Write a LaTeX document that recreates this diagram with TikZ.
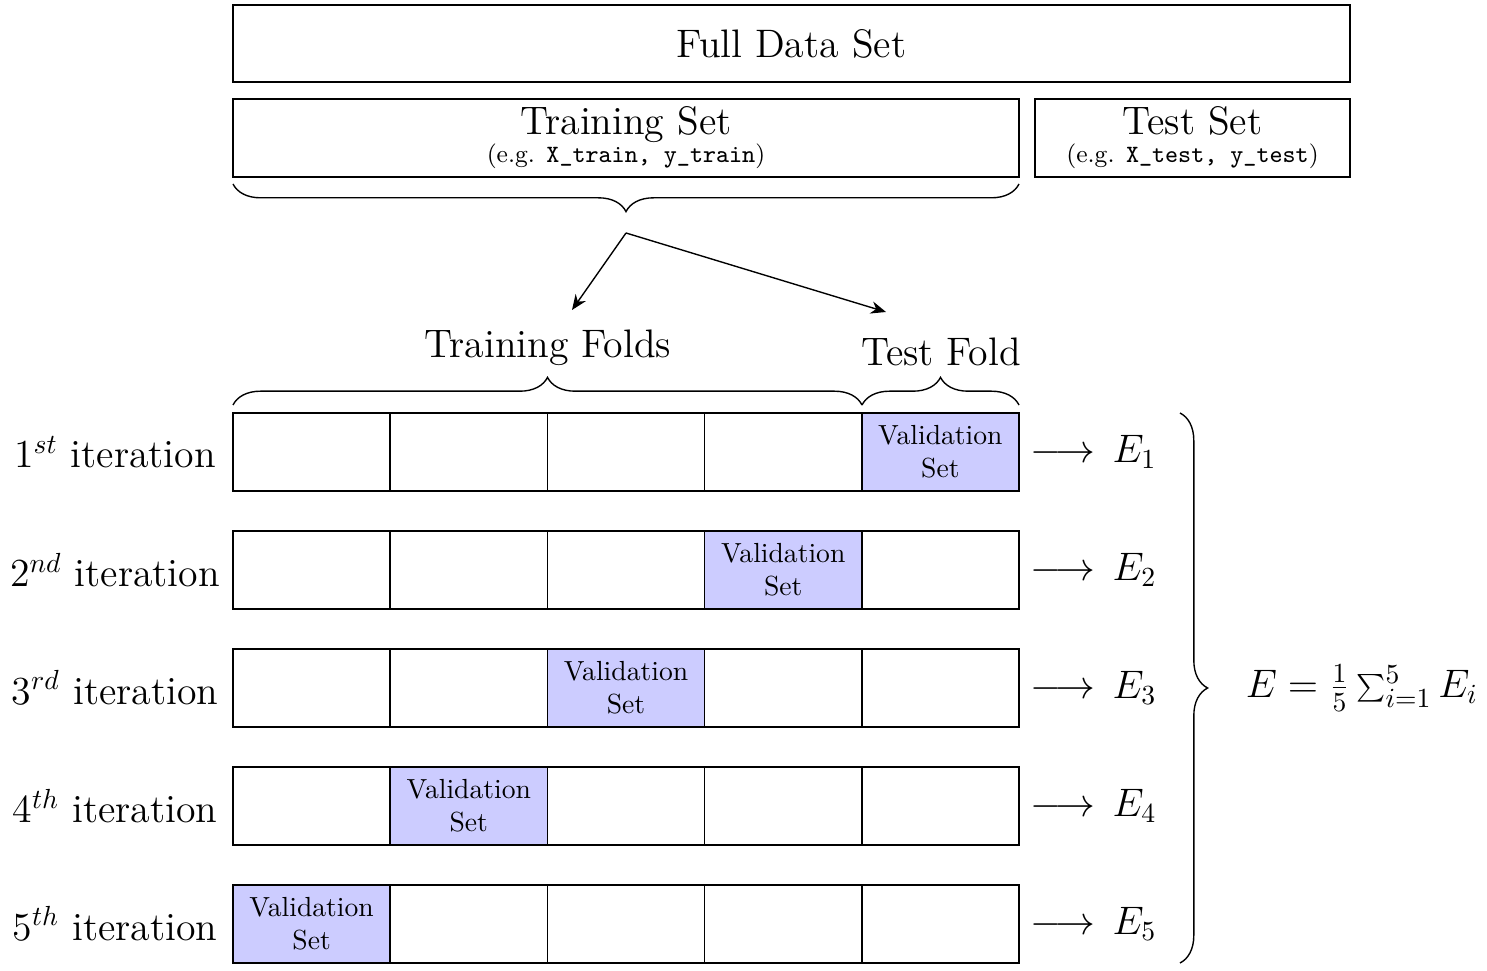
\documentclass[tikz,border=0pt]{standalone}
\usetikzlibrary{decorations.pathreplacing,arrows.meta}
\newcommand\pxu{0.12723mm}
\begin{document}
\begin{tikzpicture}[x=0.12723mm,y=-0.12723mm,
  box/.style={draw, line width=0.6pt, inner sep=0pt, outer sep=0pt},
  cell/.style={box, minimum width={157.2*\pxu}, minimum height={78*\pxu}},
  valcell/.style={cell, fill=blue!20, align=center, font=\normalsize},
  bigtext/.style={font=\Large},
  brace/.style={decorate, decoration={brace, amplitude=10pt}, line width=0.5pt},
  arr/.style={-{Stealth[length=5.5pt,width=4.5pt]}, line width=0.5pt}
]
\useasboundingbox (0,0) rectangle (1487,971);

% top boxes
\node[box, minimum width={1117*\pxu}, minimum height={77*\pxu}, bigtext] (full) at (791.5,43.5) {Full Data Set};
\node[box, minimum width={786*\pxu}, minimum height={78*\pxu}] (train) at (626,138) {};
\node[anchor=base, bigtext] (trainlbl) at (626,135) {Training Set};
\node[anchor=base, font=\small] (trainsub) at (626,163) {(e.g. \texttt{X\_train, y\_train})};
\node[box, minimum width={315*\pxu}, minimum height={78*\pxu}] (test) at (1192.5,138) {};
\node[anchor=base, bigtext] (testlbl) at (1192.5,135) {Test Set};
\node[anchor=base, font=\small] (testsub) at (1192.5,163) {(e.g. \texttt{X\_test, y\_test})};

% brace under training set
\draw[brace] (1019,184) -- (233,184);

% split arrows
\coordinate (split) at (626,233);
\coordinate (tofolds) at (572,310);
\coordinate (totest) at (886,312);
\draw[arr] (split) -- (tofolds);
\draw[arr] (split) -- (totest);

% fold labels and braces
\node[anchor=south, inner sep=2pt, bigtext] (tflbl) at (548,372) {Training Folds};
\node[anchor=south, inner sep=2pt, bigtext] (testfoldlbl) at (941,372) {Test Fold};
\draw[brace] (233,405) -- (862,405);
\draw[brace] (862,405) -- (1019,405);

% rows
\foreach \r/\sup in {1/st,2/nd,3/rd,4/th,5/th} {
  \pgfmathsetmacro\yc{452+(\r-1)*118}
  \pgfmathtruncatemacro\vc{6-\r}
  \foreach \c in {1,...,5} {
    \pgfmathsetmacro\xc{233+(\c-0.5)*157.2}
    \ifnum\c=\vc
      \node[valcell] (r\r c\c) at (\xc,\yc) {Validation\\Set};
    \else
      \node[cell] (r\r c\c) at (\xc,\yc) {};
    \fi
  }
  \node[bigtext] (it\r) at (115,\yc) {\r$^{\sup}$ iteration};
  \node[anchor=west, bigtext, xshift={2*\pxu}] (e\r) at (r\r c5.east) {$\longrightarrow\, E_\r$};
}

% right brace and average
\draw[brace] (1180,413) -- (1180,963);
\node[anchor=west, bigtext] (avg) at (1236,688) {$E = \frac{1}{5}\sum_{i=1}^{5} E_i$};
\end{tikzpicture}
\end{document}
